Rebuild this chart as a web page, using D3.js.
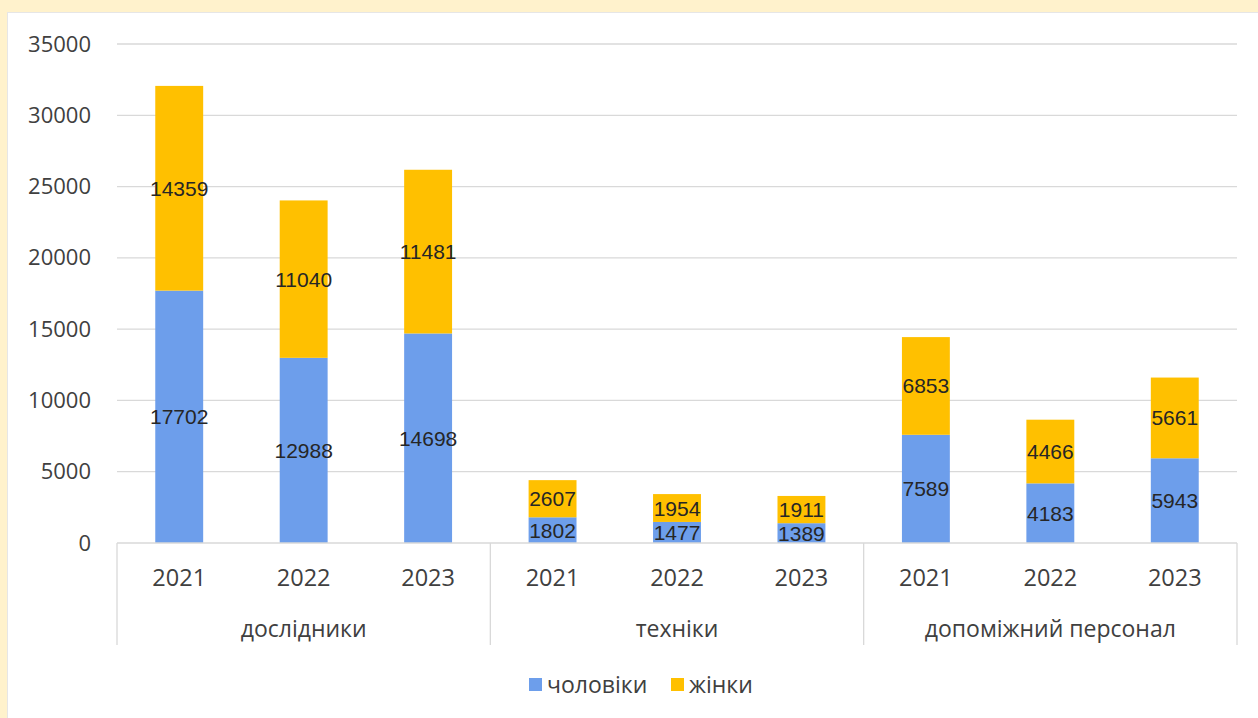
<!DOCTYPE html>
<html>
<head>
<meta charset="utf-8">
<script src="https://cdn.jsdelivr.net/npm/d3@7"></script>
<style>
  html, body { margin: 0; padding: 0; background: #fff2cc; }
  svg { display: block; font-family: "Open Sans", "DejaVu Sans", sans-serif; }
</style>
</head>
<body>
<svg id="chart" width="1258" height="718"></svg>
<script>
const groups = ["дослідники", "техніки", "допоміжний персонал"];
const years = ["2021", "2022", "2023"];
const seriesNames = ["чоловіки", "жінки"];
const seriesColors = ["#6d9eeb", "#ffc000"];
const men   = [17702, 12988, 14698, 1802, 1477, 1389, 7589, 4183, 5943];
const women = [14359, 11040, 11481, 2607, 1954, 1911, 6853, 4466, 5661];
const yTicks = [0, 5000, 10000, 15000, 20000, 25000, 30000, 35000];

(function () {
const svg = d3.select("#chart");
const W = 1258, H = 718;

// beige frame + white panel
svg.append("rect").attr("x", 0).attr("y", 0).attr("width", W).attr("height", H).attr("fill", "#fff2cc");
svg.append("rect").attr("x", 7.5).attr("y", 12.5).attr("width", W).attr("height", H)
  .attr("fill", "#ffffff").attr("stroke", "#e6e6e6");

const pLeft = 117, pRight = 1237, pTop = 44, pBottom = 543;

const cats = [];
groups.forEach((g, gi) => years.forEach((yr, yi) => cats.push({ key: g + "|" + yr, group: g, year: yr, i: gi * 3 + yi })));

const x = d3.scaleBand().domain(cats.map(c => c.key)).range([pLeft, pRight]).paddingInner(0.615).paddingOuter(0.3075);
const y = d3.scaleLinear().domain([0, 35000]).range([pBottom, pTop]);

// gridlines
svg.append("g").selectAll("line").data(yTicks.filter(t => t > 0)).join("line")
  .attr("x1", pLeft).attr("x2", pRight)
  .attr("y1", d => y(d)).attr("y2", d => y(d))
  .attr("stroke", "#d9d9d9").attr("stroke-width", 1.3);

// y axis labels
const yAxis = d3.axisLeft(y).tickValues(yTicks).tickSize(0).tickPadding(0).tickFormat(d3.format("d"));
const ya = svg.append("g").attr("transform", `translate(${pLeft - 26},0)`).call(yAxis);
ya.select(".domain").remove();
ya.selectAll("text").attr("font-size", 22).attr("fill", "#404040").attr("font-family", "Open Sans");

// stacked data
const rows = cats.map(c => ({ key: c.key, men: men[c.i], women: women[c.i] }));
const stacked = d3.stack().keys(["men", "women"])(rows);

const barG = svg.append("g");
stacked.forEach((layer, li) => {
  barG.append("g").selectAll("rect").data(layer).join("rect")
    .attr("x", d => x(d.data.key))
    .attr("width", x.bandwidth())
    .attr("y", d => y(d[1]))
    .attr("height", d => y(d[0]) - y(d[1]))
    .attr("fill", seriesColors[li]);
});

// data labels
stacked.forEach((layer, li) => {
  barG.append("g").selectAll("text").data(layer).join("text")
    .attr("x", d => x(d.data.key) + x.bandwidth() / 2)
    .attr("y", d => (y(d[0]) + y(d[1])) / 2)
    .attr("text-anchor", "middle")
    .attr("dominant-baseline", "central")
    .attr("font-family", "'Liberation Sans', Arial, sans-serif")
    .attr("font-size", 21)
    .attr("fill", "#262626")
    .text(d => d[1] - d[0]);
});

// x axis line
svg.append("line").attr("x1", pLeft).attr("x2", pRight).attr("y1", pBottom).attr("y2", pBottom)
  .attr("stroke", "#d9d9d9").attr("stroke-width", 1.3);

// group separators
const groupScale = d3.scaleBand().domain(groups).range([pLeft, pRight]);
const sepXs = [pLeft].concat(groups.map(g => groupScale(g) + groupScale.bandwidth()));
svg.append("g").selectAll("line").data(sepXs).join("line")
  .attr("x1", d => d).attr("x2", d => d).attr("y1", pBottom).attr("y2", 645)
  .attr("stroke", "#d9d9d9").attr("stroke-width", 1.3);

// year labels
svg.append("g").selectAll("text").data(cats).join("text")
  .attr("x", d => x(d.key) + x.bandwidth() / 2)
  .attr("y", 586)
  .attr("text-anchor", "middle")
  .attr("font-size", 23.5).attr("fill", "#404040")
  .text(d => d.year);

// group labels
svg.append("g").selectAll("text").data(groups).join("text")
  .attr("x", d => groupScale(d) + groupScale.bandwidth() / 2)
  .attr("y", 637)
  .attr("text-anchor", "middle")
  .attr("font-size", 23).attr("fill", "#404040")
  .text(d => d);

// legend
const legend = svg.append("g");
const legendItems = [{ name: seriesNames[0], color: seriesColors[0], x: 529 }, { name: seriesNames[1], color: seriesColors[1], x: 671 }];
legendItems.forEach(it => {
  legend.append("rect").attr("x", it.x).attr("y", 678).attr("width", 13).attr("height", 13).attr("fill", it.color);
  legend.append("text").attr("x", it.x + 18).attr("y", 693)
    .attr("font-size", 23).attr("fill", "#404040").text(it.name);
});
})();
</script>
</body>
</html>
